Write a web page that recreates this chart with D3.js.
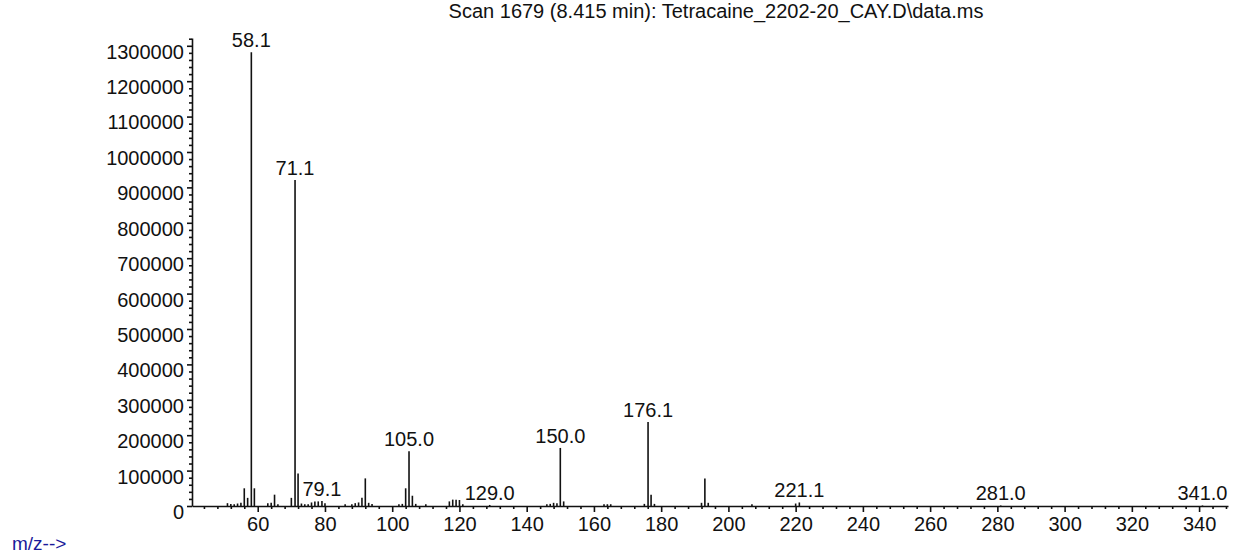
<!DOCTYPE html>
<html lang="en">
<meta charset="utf-8">
<script src="https://cdnjs.cloudflare.com/ajax/libs/d3/7.8.5/d3.min.js"></script>
<style>
  body { margin: 0; background: #fff; }
  text { font-family: "Liberation Sans", Arial, sans-serif; fill: #111; }
</style>
<body>
<div id="chart"></div>
<script>
// mass spectrum, scan 1679
var mz = [51, 52, 53, 54, 55, 56, 57, 58.1, 59, 63, 64, 65, 66, 70, 71.1, 72, 73, 74, 75, 76,
          77, 78, 79.1, 80, 86, 88, 89, 90, 91, 92, 93, 94, 102, 103, 104, 105.0, 106, 107, 110,
          117, 118, 119, 120, 121, 129.0, 146, 147, 148, 149, 150.0, 151, 163, 164, 165, 175,
          176.1, 177, 178, 192, 193, 194, 207, 220, 221.1, 281.0, 341.0];
var abundance = [8000, 6000, 5000, 7000, 9000, 50000, 23000, 1282000, 50000, 8000, 9000, 32000, 5000,
                 23000, 921000, 92000, 7000, 5000, 5000, 10000, 13000, 13000, 14000, 8000, 5000,
                 5000, 8000, 10000, 23000, 78000, 9000, 6000, 5000, 6000, 50000, 155000, 29000,
                 6000, 5000, 13000, 18000, 18000, 17000, 5000, 3000, 5000, 6000, 9000, 8000,
                 164000, 13000, 5000, 5000, 5000, 6000, 237000, 32000, 6000, 9000, 78000, 9000,
                 5000, 7000, 10000, 1500, 1500];
var labelled = [58.1, 71.1, 79.1, 105.0, 129.0, 150.0, 176.1, 221.1, 281.0, 341.0];
var xTicks = [60, 80, 100, 120, 140, 160, 180, 200, 220, 240, 260, 280, 300, 320, 340];
var yTicks = [0, 100000, 200000, 300000, 400000, 500000, 600000, 700000, 800000, 900000,
              1000000, 1100000, 1200000, 1300000];
var title = "Scan 1679 (8.415 min): Tetracaine_2202-20_CAY.D\\data.ms";

var W = 1236, H = 554;
var peaks = mz.map(function(m, i) { return {mz: m, ab: abundance[i]}; });

var svg = d3.select("#chart").append("svg")
    .attr("width", W)
    .attr("height", H);

var x = d3.scaleLinear().domain([40.45, 348.6]).range([192, 1228]);
var y = d3.scaleLinear().domain([0, 1322000]).range([506, 38]);

// x axis: labelled every 20, minor every 4
var xMinor = d3.range(44, 349, 4).filter(function(v) { return v % 20 != 0; });
svg.append("g")
    .attr("transform", "translate(0,506)")
    .call(d3.axisBottom(x).tickValues(xMinor).tickSize(3).tickFormat(""))
    .call(function(g) { g.select(".domain").remove(); });
var gx = svg.append("g")
    .attr("transform", "translate(0,506)")
    .call(d3.axisBottom(x).tickValues(xTicks).tickSize(6).tickSizeOuter(0).tickPadding(5).tickFormat(d3.format("d")));
gx.selectAll("text").style("font-size", "20px");

// y axis: labelled every 100000, minor every 20000
var yMinor = d3.range(20000, 1322000, 20000).filter(function(v) { return v % 100000 != 0; });
svg.append("g")
    .attr("transform", "translate(192,0)")
    .call(d3.axisLeft(y).tickValues(yMinor).tickSize(3).tickFormat(""))
    .call(function(g) { g.select(".domain").remove(); });
var gy = svg.append("g")
    .attr("transform", "translate(192,0)")
    .call(d3.axisLeft(y).tickValues(yTicks).tickSize(5).tickSizeOuter(0).tickPadding(3).tickFormat(d3.format("d")));
gy.selectAll("text").style("font-size", "20px").attr("dy", "0.62em");

svg.selectAll(".domain, .tick line").attr("stroke", "#111").attr("stroke-width", 1.6);

// peaks
svg.selectAll("line.peak")
  .data(peaks)
  .enter()
  .append("line")
    .attr("class", "peak")
    .attr("x1", function(d) { return x(d.mz); })
    .attr("x2", function(d) { return x(d.mz); })
    .attr("y1", y(0))
    .attr("y2", function(d) { return y(d.ab); })
    .attr("stroke", "#111")
    .attr("stroke-width", 1.6);

svg.selectAll("text.plabel")
  .data(peaks.filter(function(d) { return labelled.indexOf(d.mz) >= 0; }))
  .enter()
  .append("text")
    .attr("class", "plabel")
    .attr("x", function(d) { return x(d.mz); })
    .attr("y", function(d) { return y(d.ab) - 5; })
    .attr("text-anchor", "middle")
    .style("font-size", "20px")
    .text(function(d) { return d3.format(".1f")(d.mz); });

svg.append("text")
    .attr("x", 716)
    .attr("y", 18)
    .attr("text-anchor", "middle")
    .style("font-size", "20px")
    .text(title);

svg.append("text")
    .attr("x", 12)
    .attr("y", 550)
    .style("font-size", "19px")
    .style("fill", "#1a1a9a")
    .text("m/z-->");
</script>
</body>
</html>
